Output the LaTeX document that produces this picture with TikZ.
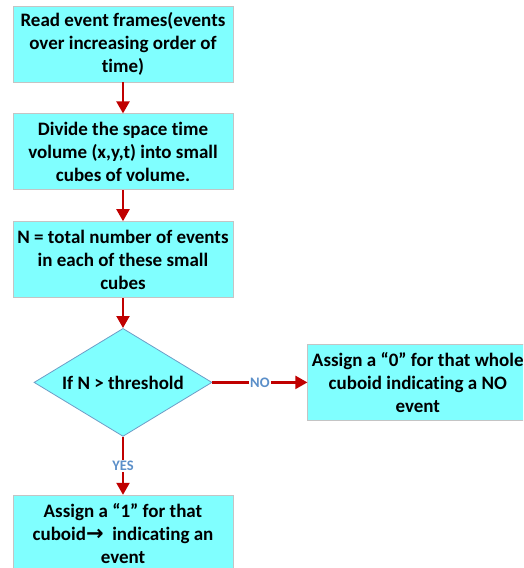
\documentclass[tikz,border=0pt]{standalone}
\usepackage{fontspec}
\setmainfont[Ligatures=NoCommon]{Carlito}
\newfontfamily\arrowfont{DejaVu Sans}
\usetikzlibrary{positioning}
\usetikzlibrary{shapes.geometric}
\usetikzlibrary{arrows.meta}
\definecolor{boxcyan}{HTML}{80FFFF}
\definecolor{boxgray}{HTML}{C4C4C4}
\definecolor{edgeblue}{HTML}{6E9CC6}
\definecolor{flowred}{HTML}{C00000}
\definecolor{labelblue}{HTML}{5B8FC9}

\tikzset{
  stepbox/.style={draw=boxgray, fill=boxcyan, line width=0.8pt, align=center,
    minimum width=220pt, minimum height=76pt, inner sep=2pt,
    font=\fontsize{19}{23}\selectfont\bfseries},
  testbox/.style={draw=edgeblue, fill=boxcyan, line width=0.8pt, shape=diamond,
    aspect=1.65, minimum width=178pt, minimum height=108pt, inner sep=0pt,
    font=\fontsize{19}{23}\selectfont\bfseries},
  flow/.style={draw=flowred, line width=2.2pt, -{Triangle[length=12pt,width=13pt]}},
  answer/.style={fill=white, text=labelblue, inner sep=1pt,
    font=\fontsize{14.5}{16}\selectfont\bfseries}
}

\begin{document}
\begin{tikzpicture}[x=1pt, y=1pt]
		\useasboundingbox (0,0) rectangle (523,-568);
		\clip (0,0) rectangle (523,-568);
		
		\node[stepbox] (READ) at (123,-44) {Read event frames(events\\over increasing order of\\time)};
		\node[stepbox, below=31pt of READ] (DIV) {Divide the space time\\volume (x,y,t) into small\\cubes of volume.};
		\node[stepbox, below=31pt of DIV] (COUNT) {N = total number of events\\in each of these small\\cubes};
		\node[testbox, below=30pt of COUNT] (TEST) {If N > threshold};
		\node[stepbox, right=95pt of TEST] (ZERO) {Assign a “0” for that whole\\cuboid indicating a NO\\event};
		\node[stepbox, below=58pt of TEST, anchor=north] (ONE) {Assign a “1” for that\\cuboid{\arrowfont\fontsize{21}{23}\selectfont →}\ \ indicating an\\event};
		
		\draw[flow] (READ) -- (DIV);
		\draw[flow] (DIV) -- (COUNT);
		\draw[flow] (COUNT) -- (TEST);
		\draw[flow] (TEST) -- node[answer] {NO} (ZERO);
		\draw[flow] (TEST) -- node[answer] {YES} (ONE);
		\end{tikzpicture}
\end{document}
